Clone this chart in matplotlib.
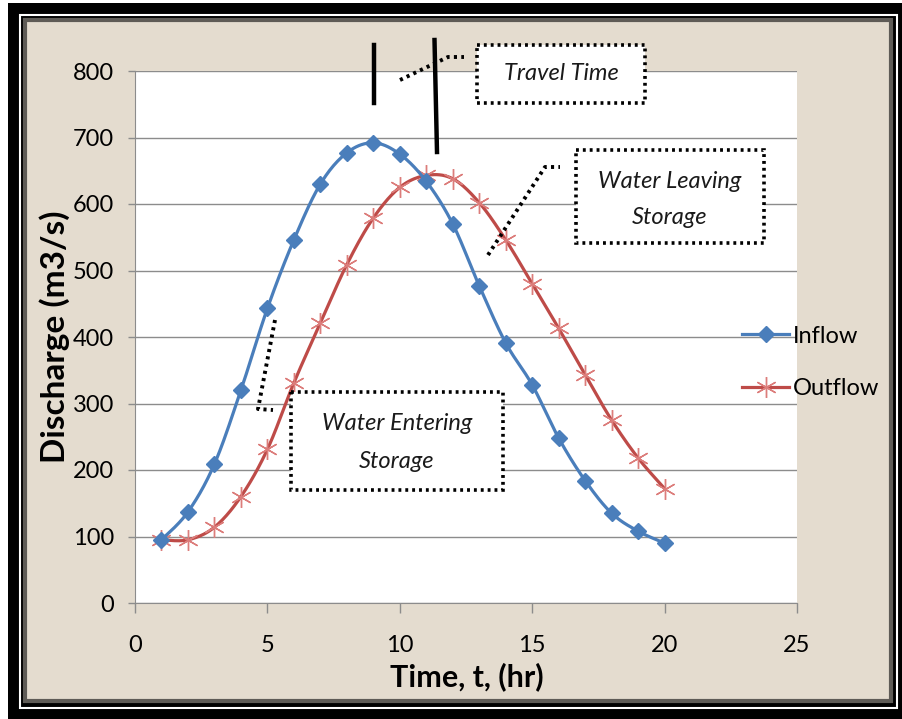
import numpy as np
import matplotlib
matplotlib.use("Agg")
import matplotlib.pyplot as plt
from matplotlib.patches import Rectangle
from matplotlib.lines import Line2D
from matplotlib.transforms import Affine2D

plt.rcParams['font.family'] = ['Lato', 'DejaVu Sans']

# data
time_hr = [1, 2, 3, 4, 5, 6, 7, 8, 9, 10, 11, 12, 13, 14, 15, 16, 17, 18, 19, 20]
inflow = [95, 137, 209, 320, 443, 546, 630, 677, 692, 675,
          634, 570, 477, 391, 328, 248, 184, 135, 108, 90]
outflow = [95, 95, 114, 160, 231, 331, 421, 509, 579, 625,
           643, 638, 602, 546, 480, 413, 343, 275, 218, 172]
x_ticks = [0, 5, 10, 15, 20, 25]
y_ticks = [0, 100, 200, 300, 400, 500, 600, 700, 800]


def smooth(xs, ys, n=20):
    # catmull-rom curve through the points, like Excel's smoothed line
    xs = np.asarray(xs, float)
    ys = np.asarray(ys, float)
    px = np.concatenate([[xs[0]], xs, [xs[-1]]])
    py = np.concatenate([[ys[0]], ys, [ys[-1]]])
    t = np.linspace(0, 1, n, endpoint=False)
    outx, outy, marks = [], [], []
    for i in range(1, len(px) - 2):
        marks.append(len(outx))
        for arr, out in ((px, outx), (py, outy)):
            p0, p1, p2, p3 = arr[i - 1], arr[i], arr[i + 1], arr[i + 2]
            c1 = p1 + (p2 - p0) / 6
            c2 = p2 - (p3 - p1) / 6
            out.extend((1 - t) ** 3 * p1 + 3 * (1 - t) ** 2 * t * c1
                       + 3 * (1 - t) * t ** 2 * c2 + t ** 3 * p2)
    marks.append(len(outx))
    outx.append(xs[-1])
    outy.append(ys[-1])
    return outx, outy, marks


fig = plt.figure(figsize=(9.02, 7.19), dpi=100)
fig.patch.set_facecolor('white')
# pixel coordinates, origin top-left
pix = Affine2D().scale(1 / 902, -1 / 719).translate(0, 1) + fig.transFigure

# frame
fig.add_artist(Rectangle((8, 3), 894, 716, transform=pix, facecolor='black',
                         edgecolor='none', zorder=-10))
fig.add_artist(Rectangle((19.5, 14.5), 877, 693, transform=pix, facecolor='none',
                         edgecolor='white', lw=1.5, zorder=-9))
fig.add_artist(Rectangle((25, 20), 866, 681, transform=pix, facecolor='#e4dccf',
                         edgecolor='#5e5b56', lw=3, zorder=-8))

ax = fig.add_axes([135 / 902, 1 - 603 / 719, 662 / 902, 532 / 719])
ax.set_facecolor('white')

ix, iy, im = smooth(time_hr, inflow)
ox, oy, om = smooth(time_hr, outflow)
ax.plot(ix, iy, color='#4a7ebb', lw=2.3, marker='D', markevery=im,
        markersize=8, markerfacecolor='#4a7ebb', markeredgecolor='#4a7ebb',
        label='Inflow', zorder=4)
ax.plot(ox, oy, color='#be4b48', lw=2.3, marker=(6, 2, 0), markevery=om,
        markersize=15, markeredgecolor='#dc7d7b', markeredgewidth=1.0,
        label='Outflow', zorder=3)

ax.set_xlim(0, 25)
ax.set_ylim(0, 800)
ax.set_xticks(x_ticks)
ax.set_yticks(y_ticks)
ax.grid(axis='y', color='#8c8c8c', lw=1)
ax.set_axisbelow(True)
for s in ('top', 'right'):
    ax.spines[s].set_visible(False)
for s in ('left', 'bottom'):
    ax.spines[s].set_color('#8c8c8c')
ax.tick_params(axis='x', colors='#8c8c8c', length=7, width=1, pad=16,
               labelsize=17, labelcolor='black')
ax.tick_params(axis='y', colors='#8c8c8c', length=5, width=1, pad=10,
               labelsize=17, labelcolor='black')

ax.set_xlabel('Time, t, (hr)', fontsize=22, fontweight='bold', va='center')
ax.xaxis.set_label_coords((467 - 135) / 662, -(677 - 603) / 532)
ax.set_ylabel('Discharge (m3/s)', fontsize=24, fontweight='bold', va='center')
ax.yaxis.set_label_coords(-(135 - 55) / 662, 0.5)

ax.legend(loc='center left', bbox_to_anchor=(742 / 902, 1 - 362.5 / 719),
          bbox_transform=fig.transFigure, frameon=False, fontsize=17,
          handlelength=2.0, handletextpad=0.15, labelspacing=1.35,
          borderpad=0, borderaxespad=0)

# annotations
dot = (0, (0.8, 1.1))


def box(x0, y0, x1, y1, lines, ys):
    fig.add_artist(Rectangle((x0, y0), x1 - x0, y1 - y0, transform=pix,
                             facecolor='white', edgecolor='black', lw=2.6,
                             linestyle=dot, zorder=10))
    for txt, yy in zip(lines, ys):
        fig.text((x0 + x1) / 2, yy, txt, transform=pix, ha='center', va='center',
                 fontsize=17, style='italic', color='#1a1a1a', zorder=11)


def leader(xs, ys):
    fig.add_artist(Line2D(xs, ys, transform=pix, color='black', lw=2.8,
                          linestyle=dot, zorder=10))


box(477, 45, 645, 103, ['Travel Time'], [74])
leader([400, 448, 464], [80, 57, 57])
fig.add_artist(Line2D([374, 374], [45, 103], transform=pix, color='black',
                      lw=3.2, zorder=10))
fig.add_artist(Line2D([434.5, 437], [40, 152], transform=pix, color='black',
                      lw=3.2, zorder=10))

box(576, 150, 764, 243, ['Water Leaving', 'Storage'], [182, 217])
leader([488, 545, 560], [255, 167, 167])

box(291, 392, 503, 490, ['Water Entering', 'Storage'], [423, 461])
leader([275, 258, 273], [320, 409, 410])

fig.savefig('out.png', dpi=100)
